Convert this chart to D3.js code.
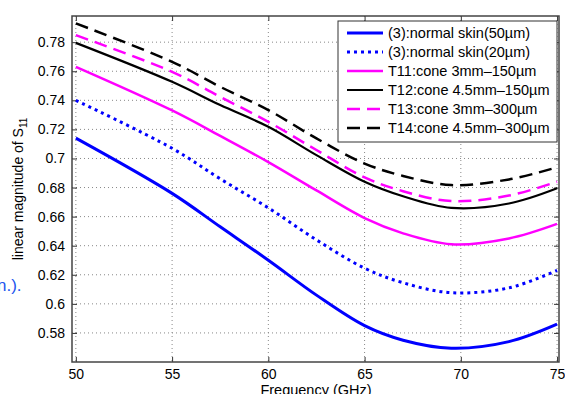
<!DOCTYPE html>
<html>
<head>
<meta charset="utf-8">
<script src="https://cdn.jsdelivr.net/npm/d3@7"></script>
<style>
  html, body { margin: 0; padding: 0; background: #fff; }
  #chart { width: 565px; height: 394px; overflow: hidden; }
  text { font-family: "Liberation Sans", Arial, sans-serif; }
</style>
</head>
<body>
<div id="chart"></div>
<script>
// frequency samples (GHz)
const freqs = [50, 55, 57.5, 60, 62.5, 65, 67, 69.5, 72.5, 75];

// linear magnitude of S11 per series
const skin50 = [0.714, 0.676, 0.653, 0.630, 0.606, 0.585, 0.575, 0.5695, 0.574, 0.586];
const skin20 = [0.740, 0.707, 0.686, 0.666, 0.644, 0.6245, 0.6145, 0.6077, 0.611, 0.623];
const t11 = [0.763, 0.733, 0.7155, 0.6975, 0.678, 0.659, 0.6485, 0.641, 0.645, 0.655];
const t12 = [0.7795, 0.7527, 0.7367, 0.7218, 0.7023, 0.684, 0.674, 0.666, 0.669, 0.6795];
const t13 = [0.7848, 0.7596, 0.7424, 0.7252, 0.7058, 0.687, 0.6775, 0.6707, 0.6745, 0.684];
const t14 = [0.7929, 0.7665, 0.7493, 0.7333, 0.7138, 0.6965, 0.688, 0.6817, 0.6856, 0.6939];

const seriesNames = [
  "(3):normal skin(50µm)",
  "(3):normal skin(20µm)",
  "T11:cone 3mm–150µm",
  "T12:cone 4.5mm–150µm",
  "T13:cone 3mm–300µm",
  "T14:cone 4.5mm–300µm"
];

const xTicks = [50, 55, 60, 65, 70, 75];
const yTicks = [0.58, 0.6, 0.62, 0.64, 0.66, 0.68, 0.7, 0.72, 0.74, 0.76, 0.78];

const styles = [
  { color: "#0000ff", width: 3, dash: null },
  { color: "#0000ff", width: 3, dash: "3,4" },
  { color: "#ff00ff", width: 2.5, dash: null },
  { color: "#000000", width: 2.2, dash: null },
  { color: "#ff00ff", width: 2.5, dash: "13,7" },
  { color: "#000000", width: 2.5, dash: "13,7" }
];

const series = [skin50, skin20, t11, t12, t13, t14];

const W = 565, H = 394;
const plot = { left: 72, right: 559, top: 16, bottom: 362 };

const svg = d3.select("#chart")
  .append("svg")
  .attr("width", W)
  .attr("height", H);

const x = d3.scaleLinear().domain([49.8, 75.1]).range([plot.left, plot.right]);
const y = d3.scaleLinear().domain([0.56, 0.798]).range([plot.bottom, plot.top]);

// stray caption text from the surrounding page
svg.append("text")
  .attr("x", -3).attr("y", 291)
  .attr("fill", "#2255ee")
  .style("font-size", "17px")
  .text("n.).");

// grid
const grid = svg.append("g");
grid.selectAll(".gx")
  .data(xTicks)
  .join("line")
    .attr("x1", d => x(d)).attr("x2", d => x(d))
    .attr("y1", plot.top).attr("y2", plot.bottom)
    .attr("stroke", "#888").attr("stroke-width", 1)
    .attr("stroke-dasharray", "1,3");
grid.selectAll(".gy")
  .data(yTicks)
  .join("line")
    .attr("x1", plot.left).attr("x2", plot.right)
    .attr("y1", d => y(d)).attr("y2", d => y(d))
    .attr("stroke", "#888").attr("stroke-width", 1)
    .attr("stroke-dasharray", "1,3");

// axes (ticks inward)
const fmtY = d => d3.format("")(+d.toFixed(2));
svg.append("g")
  .attr("transform", `translate(0,${plot.bottom})`)
  .call(d3.axisBottom(x).tickValues(xTicks).tickSize(-5).tickPadding(7).tickFormat(d3.format("d")))
  .call(g => g.select(".domain").remove())
  .call(g => g.selectAll("line").attr("stroke", "#333"))
  .call(g => g.selectAll("text").style("font-size", "14px").attr("fill", "#000"));
svg.append("g")
  .attr("transform", `translate(0,${plot.top})`)
  .call(d3.axisTop(x).tickValues(xTicks).tickSize(-5).tickFormat(""))
  .call(g => g.select(".domain").remove())
  .call(g => g.selectAll("line").attr("stroke", "#333"));
svg.append("g")
  .attr("transform", `translate(${plot.left},0)`)
  .call(d3.axisLeft(y).tickValues(yTicks).tickSize(-5).tickPadding(7).tickFormat(fmtY))
  .call(g => g.select(".domain").remove())
  .call(g => g.selectAll("line").attr("stroke", "#333"))
  .call(g => g.selectAll("text").style("font-size", "14px").attr("fill", "#000"));
svg.append("g")
  .attr("transform", `translate(${plot.right},0)`)
  .call(d3.axisRight(y).tickValues(yTicks).tickSize(-5).tickFormat(""))
  .call(g => g.select(".domain").remove())
  .call(g => g.selectAll("line").attr("stroke", "#333"));

// lines
const line = d3.line()
  .x((d, i) => x(freqs[i]))
  .y(d => y(d))
  .curve(d3.curveCatmullRom.alpha(0.5));

svg.append("g")
  .selectAll("path")
  .data(series)
  .join("path")
    .attr("d", line)
    .attr("fill", "none")
    .attr("stroke", (d, i) => styles[i].color)
    .attr("stroke-width", (d, i) => styles[i].width)
    .attr("stroke-dasharray", (d, i) => styles[i].dash);

// frame
svg.append("rect")
  .attr("x", plot.left).attr("y", plot.top)
  .attr("width", plot.right - plot.left).attr("height", plot.bottom - plot.top)
  .attr("fill", "none").attr("stroke", "#444").attr("stroke-width", 1.5);

// axis labels
svg.append("text")
  .attr("x", 316).attr("y", 395)
  .attr("text-anchor", "middle")
  .attr("fill", "#000")
  .style("font-size", "14.5px")
  .text("Frequency (GHz)");

const yl = svg.append("text")
  .attr("transform", "translate(23,189) rotate(-90)")
  .attr("text-anchor", "middle")
  .attr("fill", "#000")
  .style("font-size", "14px");
yl.append("tspan").text("linear magnitude of S");
yl.append("tspan").attr("dy", 4).style("font-size", "10px").text("11");

// legend
const legend = svg.append("g");
legend.append("rect")
  .attr("x", 338).attr("y", 21)
  .attr("width", 219).attr("height", 121)
  .attr("fill", "#fff").attr("stroke", "#333").attr("stroke-width", 1);

const rows = legend.selectAll(".row")
  .data(seriesNames)
  .join("g")
    .attr("transform", (d, i) => `translate(0,${33 + i * 19})`);
rows.append("line")
  .attr("x1", 347).attr("x2", 383)
  .attr("stroke", (d, i) => styles[i].color)
  .attr("stroke-width", (d, i) => styles[i].width)
  .attr("stroke-dasharray", (d, i) => styles[i].dash);
rows.append("text")
  .attr("x", 388).attr("y", 5)
  .attr("fill", "#000")
  .style("font-size", "14.5px")
  .text(d => d);
</script>
</body>
</html>
